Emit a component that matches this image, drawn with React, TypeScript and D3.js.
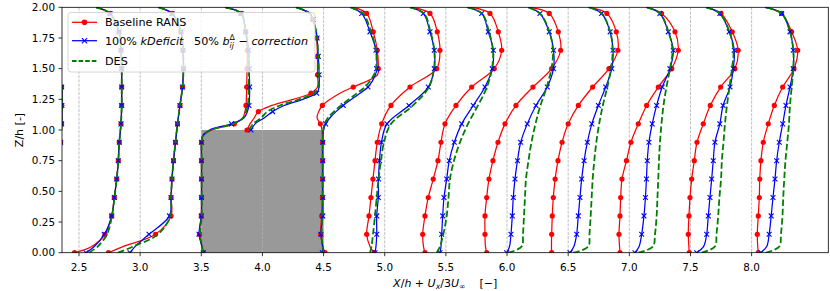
import React from 'react';
import * as d3 from 'd3';

// Profile stations X/h
const stations = [2.0, 2.5, 3.0, 3.5, 4.0, 4.5, 5.0, 5.5, 6.0, 6.5, 7.0, 7.5, 8.0];

// z/h sample levels
const zStd = [0, 0.05, 0.15, 0.3, 0.45, 0.6, 0.75, 0.9, 1.05, 1.2, 1.35, 1.5, 1.65, 1.8, 1.95, 2.0];
const zEdge = [0, 0.05, 0.15, 0.3, 0.45, 0.6, 0.75, 0.9, 0.95, 1.0, 1.05, 1.1, 1.15, 1.2, 1.3, 1.35, 1.45, 1.5, 1.65, 1.8, 1.95, 2.0];
const zTop = [1.0, 1.05, 1.1, 1.15, 1.2, 1.25, 1.3, 1.35, 1.45, 1.5, 1.6, 1.75, 1.8, 1.9, 1.95, 2.0];
const stationZ = [zStd, zStd, zStd, zEdge, zTop, zEdge, zStd, zStd, zStd, zStd, zStd, zStd, zStd];

const markerStd = [0, 0.15, 0.3, 0.45, 0.6, 0.75, 0.9, 1.05, 1.2, 1.35, 1.5, 1.65, 1.8, 1.95];
const markerTop = [1.0, 1.15, 1.3, 1.45, 1.6, 1.75, 1.9];
const stationMarkers = [markerStd, markerStd, markerStd, markerStd, markerTop, markerStd, markerStd, markerStd, markerStd, markerStd, markerStd, markerStd, markerStd];

// Ux/U_inf : Baseline RANS
const ransU = [
  [0.3, 0.5, 0.72, 0.85, 0.92, 0.96, 1.0, 1.05, 1.075, 1.08, 1.075, 1.0, 0.98, 0.95, 0.8, 0.45],
  [-0.11, 0.311, 0.638, 0.802, 0.866, 0.925, 0.964, 0.988, 1.03, 1.047, 1.047, 1.047, 1.03, 0.981, 0.76, 0.417],
  [-0.776, -0.421, 0.376, 0.757, 0.76, 0.781, 0.818, 0.867, 0.916, 0.977, 1.039, 1.063, 1.051, 1.002, 0.781, 0.438],
  [0.049, 0.017, -0.044, 0.0, 0.005, 0.005, 0.005, 0.005, 0.04, 0.26, 0.81, 1.02, 1.07, 1.096, 1.11, 1.113, 1.12, 1.12, 1.13, 1.09, 0.974, 0.58],
  [-0.379, -0.305, -0.2, -0.1, 0.234, 0.75, 1.19, 1.35, 1.35, 1.35, 1.35, 1.33, 1.31, 1.23, 1.166, 0.82],
  [0.034, -0.015, -0.071, -0.047, -0.03, -0.027, -0.027, -0.027, -0.03, -0.04, -0.08, -0.16, -0.12, -0.03, 0.40, 0.728, 1.322, 1.342, 1.317, 1.219, 1.057, 0.728],
  [-0.264, -0.362, -0.443, -0.386, -0.338, -0.289, -0.239, -0.183, -0.075, 0.153, 0.619, 1.274, 1.355, 1.289, 1.11, 0.62],
  [-0.513, -0.549, -0.569, -0.513, -0.432, -0.31, -0.194, -0.12, -0.022, 0.248, 0.633, 1.187, 1.369, 1.285, 1.082, 0.591],
  [-0.499, -0.529, -0.541, -0.541, -0.499, -0.443, -0.345, -0.222, -0.05, 0.22, 0.636, 1.095, 1.316, 1.257, 1.036, 0.563],
  [-0.405, -0.41, -0.405, -0.39, -0.365, -0.32, -0.25, -0.15, 0.0, 0.25, 0.6, 1.0, 1.22, 1.18, 0.95, 0.5],
  [-0.229, -0.24, -0.254, -0.229, -0.212, -0.18, -0.07, 0.04, 0.22, 0.425, 0.71, 1.04, 1.2, 1.12, 0.79, 0.42],
  [-0.03, -0.04, -0.054, -0.037, -0.012, 0.03, 0.093, 0.16, 0.314, 0.486, 0.74, 1.09, 1.17, 1.025, 0.748, 0.38],
  [0.163, 0.15, 0.139, 0.163, 0.188, 0.2, 0.229, 0.286, 0.408, 0.556, 0.762, 1.039, 1.13, 0.982, 0.737, 0.327],
];

// Ux/U_inf : 100% kDeficit 50% b_ij correction
const kDefU = [
  [0.3, 0.5, 0.72, 0.85, 0.92, 0.96, 1.0, 1.05, 1.075, 1.08, 1.075, 1.0, 0.98, 0.95, 0.8, 0.45],
  [0.172, 0.375, 0.621, 0.802, 0.866, 0.925, 0.964, 0.988, 1.03, 1.047, 1.047, 1.047, 1.03, 0.981, 0.76, 0.417],
  [-0.249, -0.126, 0.217, 0.72, 0.757, 0.781, 0.818, 0.867, 0.916, 0.977, 1.039, 1.063, 1.051, 1.002, 0.781, 0.438],
  [0.049, 0.017, -0.056, 0.0, 0.005, 0.005, 0.005, 0.005, 0.03, 0.2, 0.74, 1.05, 1.13, 1.17, 1.185, 1.187, 1.18, 1.18, 1.16, 1.09, 0.974, 0.58],
  [-0.281, -0.18, 0.05, 0.25, 0.53, 0.99, 1.33, 1.39, 1.39, 1.385, 1.37, 1.34, 1.32, 1.24, 1.17, 0.82],
  [-0.032, -0.025, -0.064, -0.02, -0.02, -0.02, -0.02, -0.02, -0.015, 0.0, 0.05, 0.157, 0.304, 0.483, 0.893, 1.089, 1.273, 1.302, 1.285, 1.138, 0.935, 0.648],
  [-0.239, -0.215, -0.197, -0.197, -0.158, -0.153, -0.129, -0.08, 0.055, 0.595, 1.068, 1.215, 1.215, 1.11, 0.946, 0.62],
  [-0.145, -0.12, -0.103, -0.078, -0.047, 0.02, 0.083, 0.206, 0.388, 0.672, 0.959, 1.138, 1.163, 1.04, 0.878, 0.518],
  [-0.009, 0.06, 0.097, 0.129, 0.153, 0.195, 0.256, 0.335, 0.497, 0.71, 0.987, 1.14, 1.14, 1.036, 0.808, 0.514],
  [0.044, 0.14, 0.208, 0.248, 0.289, 0.331, 0.39, 0.47, 0.58, 0.74, 0.92, 1.07, 1.1, 1.03, 0.82, 0.5],
  [0.139, 0.24, 0.303, 0.359, 0.395, 0.42, 0.44, 0.481, 0.562, 0.67, 0.807, 0.997, 1.079, 0.956, 0.751, 0.42],
  [0.152, 0.32, 0.397, 0.437, 0.478, 0.52, 0.559, 0.6, 0.72, 0.8, 0.97, 1.05, 1.074, 0.95, 0.72, 0.38],
  [0.226, 0.37, 0.43, 0.48, 0.524, 0.573, 0.614, 0.678, 0.762, 0.843, 0.941, 1.022, 1.022, 0.941, 0.737, 0.327],
];

// Ux/U_inf : DES
const desU = [
  [0.3, 0.5, 0.72, 0.85, 0.92, 0.96, 1.0, 1.05, 1.075, 1.08, 1.075, 1.0, 0.98, 0.95, 0.8, 0.45],
  [0.245, 0.459, 0.687, 0.809, 0.87, 0.925, 0.964, 0.988, 1.03, 1.047, 1.047, 1.047, 1.03, 0.981, 0.76, 0.417],
  [-0.543, -0.175, 0.438, 0.745, 0.757, 0.781, 0.818, 0.867, 0.916, 0.977, 1.039, 1.063, 1.051, 1.002, 0.781, 0.438],
  [0.04, 0.02, -0.03, 0.01, 0.01, 0.01, 0.01, 0.01, 0.035, 0.23, 0.78, 1.03, 1.1, 1.14, 1.16, 1.16, 1.17, 1.17, 1.15, 1.09, 0.974, 0.58],
  [-0.33, -0.23, -0.03, 0.12, 0.43, 0.9, 1.27, 1.375, 1.38, 1.38, 1.37, 1.34, 1.32, 1.24, 1.17, 0.82],
  [0.0, -0.02, -0.05, -0.03, -0.025, -0.025, -0.025, -0.025, -0.02, -0.01, 0.022, 0.108, 0.255, 0.427, 0.819, 1.015, 1.236, 1.285, 1.285, 1.163, 0.966, 0.648],
  [-0.362, -0.325, -0.288, -0.239, -0.197, -0.153, -0.092, -0.018, 0.153, 0.693, 1.085, 1.208, 1.215, 1.122, 0.963, 0.62],
  [-0.226, -0.145, -0.064, 0.02, 0.064, 0.1, 0.199, 0.346, 0.542, 0.787, 1.008, 1.131, 1.155, 1.057, 0.885, 0.518],
  [0.031, 0.359, 0.391, 0.416, 0.44, 0.465, 0.526, 0.6, 0.698, 0.82, 0.973, 1.09, 1.127, 1.041, 0.808, 0.514],
  [0.125, 0.493, 0.522, 0.552, 0.576, 0.601, 0.64, 0.69, 0.76, 0.85, 0.96, 1.05, 1.09, 1.03, 0.82, 0.5],
  [0.22, 0.58, 0.63, 0.67, 0.69, 0.71, 0.727, 0.752, 0.789, 0.838, 0.911, 0.997, 1.058, 0.96, 0.752, 0.42],
  [0.275, 0.6, 0.638, 0.68, 0.71, 0.75, 0.77, 0.81, 0.846, 0.895, 0.957, 1.018, 1.055, 0.957, 0.72, 0.38],
  [0.35, 0.68, 0.72, 0.757, 0.776, 0.8, 0.83, 0.874, 0.916, 0.941, 0.982, 1.022, 1.022, 0.941, 0.737, 0.327],
];

const xTicks = [2.5, 3.0, 3.5, 4.0, 4.5, 5.0, 5.5, 6.0, 6.5, 7.0, 7.5, 8.0];
const yTicks = [0, 0.25, 0.5, 0.75, 1.0, 1.25, 1.5, 1.75, 2.0];
const block = { x0: 3.5, x1: 4.5, z0: 0, z1: 1.0 };

const FONT = 'DejaVu Sans';
const RED = '#ff0000';
const BLUE = '#0000ff';
const GREEN = '#008000';

export default function App() {
  const L = 62, R = 828.3, T = 7.3, B = 252.7;
  const x = d3.scaleLinear().domain([2.361, 8.627]).range([L, R]);
  const y = d3.scaleLinear().domain([0, 2]).range([B, T]);

  const lineGen = (st: number) =>
    d3.line<[number, number]>()
      .x(d => x(st + d[1] / 3))
      .y(d => y(d[0]))
      .curve(d3.curveCatmullRom.alpha(0.5));

  const pts = (i: number, vals: number[]) =>
    stationZ[i].map((z, k) => [z, vals[k]] as [number, number]).filter(p => p[1] != null);

  const markerPts = (i: number, vals: number[]) =>
    pts(i, vals).filter(p => stationMarkers[i].some(m => Math.abs(m - p[0]) < 1e-6));

  const fmtX = d3.format('.1f');
  const fmtY = d3.format('.2f');

  const xMark = (cx: number, cy: number, key: string, s = 2.4) => (
    <g key={key} stroke={BLUE} strokeWidth={1.1}>
      <line x1={cx - s} y1={cy - s} x2={cx + s} y2={cy + s} />
      <line x1={cx - s} y1={cy + s} x2={cx + s} y2={cy - s} />
    </g>
  );

  const lgX0 = 72, lgX1 = 97, lgTx = 105;

  return (
    <svg width={830} height={291} style={{ position: 'absolute', left: 0, top: 0, background: '#fff' }} fontFamily={FONT}>
      <defs>
        <clipPath id="plotclip">
          <rect x={L} y={T} width={R - L} height={B - T} />
        </clipPath>
      </defs>
      <rect x={0} y={0} width={830} height={291} fill="#fff" />

      {/* block */}
      <rect x={x(block.x0)} y={y(block.z1)} width={x(block.x1) - x(block.x0)} height={y(block.z0) - y(block.z1)} fill="#999999" />

      {/* vertical grid */}
      {xTicks.map(t => (
        <line key={'g' + t} x1={x(t)} x2={x(t)} y1={T} y2={B} stroke="#b0b0b0" strokeWidth={0.8} strokeDasharray="2.96,1.28" />
      ))}

      <g clipPath="url(#plotclip)">
        {stations.map((st, i) => {
          const lg = lineGen(st);
          return (
            <g key={'s' + st}>
              <path d={lg(pts(i, ransU[i])) || ''} fill="none" stroke={RED} strokeWidth={1.25} />
              {markerPts(i, ransU[i]).map((p, k) => (
                <circle key={'r' + k} cx={x(st + p[1] / 3)} cy={y(p[0])} r={2.6} fill={RED} />
              ))}
              <path d={lg(pts(i, kDefU[i])) || ''} fill="none" stroke={BLUE} strokeWidth={1.25} />
              {markerPts(i, kDefU[i]).map((p, k) => xMark(x(st + p[1] / 3), y(p[0]), 'b' + k))}
              <path d={lg(pts(i, desU[i])) || ''} fill="none" stroke={GREEN} strokeWidth={1.8} strokeDasharray="6.5,2.8" />
            </g>
          );
        })}
      </g>

      {/* spines */}
      <rect x={L} y={T} width={R - L} height={B - T} fill="none" stroke="#000" strokeWidth={0.8} />

      {/* x ticks */}
      {xTicks.map(t => (
        <g key={'xt' + t}>
          <line x1={x(t)} x2={x(t)} y1={B} y2={B + 3.5} stroke="#000" strokeWidth={0.8} />
          <text x={x(t)} y={B + 18.6} textAnchor="middle" fontSize={10.4} fill="#000">{fmtX(t)}</text>
        </g>
      ))}
      {/* y ticks */}
      {yTicks.map(t => (
        <g key={'yt' + t}>
          <line x1={L - 3.5} x2={L} y1={y(t)} y2={y(t)} stroke="#000" strokeWidth={0.8} />
          <text x={L - 7} y={y(t) + 3.7} textAnchor="end" fontSize={10.4} fill="#000">{fmtY(t)}</text>
        </g>
      ))}

      {/* axis labels */}
      <text x={(L + R) / 2} y={287} textAnchor="middle" fontSize={11} fill="#000" style={{ whiteSpace: 'pre' }}>
        <tspan fontStyle="italic">X</tspan><tspan>/</tspan><tspan fontStyle="italic">h</tspan><tspan> + </tspan>
        <tspan fontStyle="italic">U</tspan><tspan fontStyle="italic" fontSize={7.7} dy={2.2}>x</tspan>
        <tspan dy={-2.2}>/3</tspan><tspan fontStyle="italic">U</tspan><tspan fontSize={7.7} dy={2.2}>∞</tspan>
        <tspan dy={-2.2}>{'    [−]'}</tspan>
      </text>
      <text transform={`translate(23,${(T + B) / 2}) rotate(-90)`} textAnchor="middle" fontSize={11} fill="#000">Z/h [-]</text>

      {/* legend */}
      <rect x={68} y={12.5} width={247} height={59.5} rx={3} fill="#fff" fillOpacity={0.8} stroke="#cccccc" strokeWidth={0.8} />
      <line x1={lgX0} x2={lgX1} y1={22.3} y2={22.3} stroke={RED} strokeWidth={1.25} />
      <circle cx={(lgX0 + lgX1) / 2} cy={22.3} r={2.8} fill={RED} />
      <text x={lgTx} y={26.3} fontSize={11.2} fill="#000">Baseline RANS</text>

      <line x1={lgX0} x2={lgX1} y1={40.7} y2={40.7} stroke={BLUE} strokeWidth={1.25} />
      {xMark((lgX0 + lgX1) / 2, 40.7, 'lgx', 2.6)}
      <text x={lgTx} y={44.7} fontSize={11.2} fill="#000" style={{ whiteSpace: 'pre' }}>
        <tspan>100% </tspan><tspan fontStyle="italic">kDeficit</tspan><tspan>{'   50% '}</tspan>
        <tspan fontStyle="italic">b</tspan>
        <tspan fontStyle="italic" fontSize={7.8} dy={3}>ij</tspan>
        <tspan fontSize={7.8} dx={-4.4} dy={-8}>Δ</tspan>
        <tspan dy={5}>{' − '}</tspan>
        <tspan fontStyle="italic">correction</tspan>
      </text>

      <line x1={lgX0} x2={lgX1} y1={61} y2={61} stroke={GREEN} strokeWidth={1.8} strokeDasharray="4.6,2" />
      <text x={lgTx} y={65} fontSize={11.2} fill="#000">DES</text>
    </svg>
  );
}
